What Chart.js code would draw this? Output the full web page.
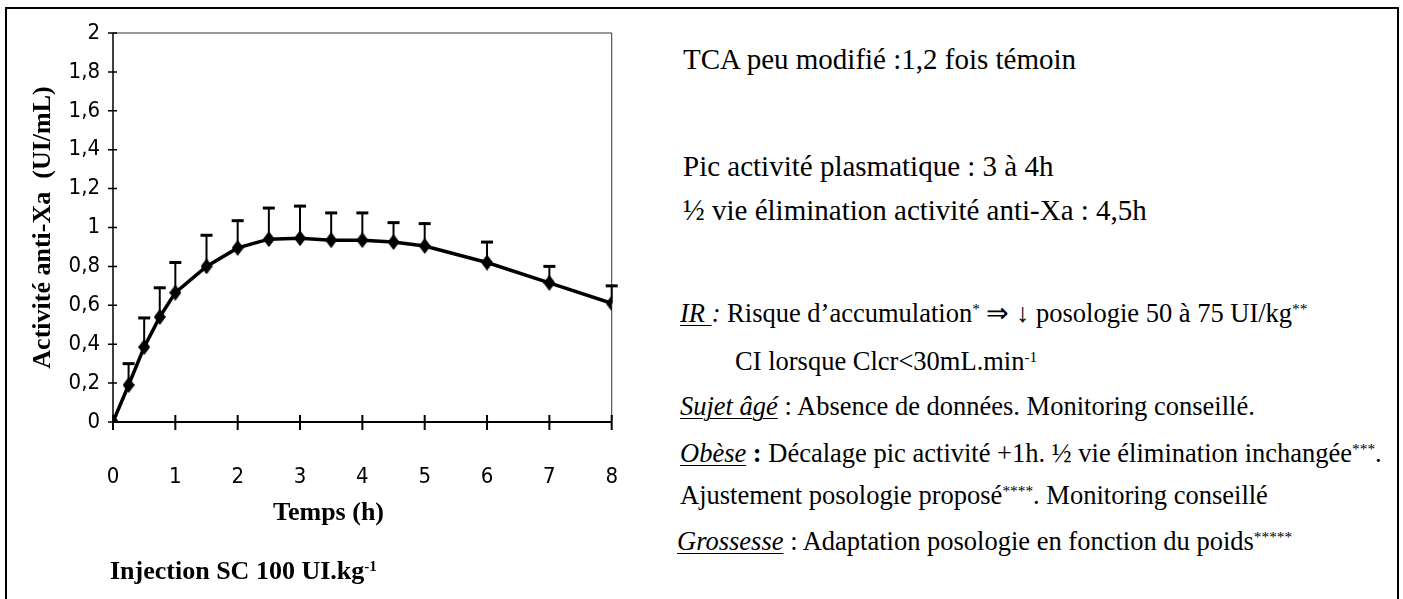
<!DOCTYPE html>
<html>
<head>
<meta charset="utf-8">
<script src="https://cdn.jsdelivr.net/npm/chart.js@4/dist/chart.umd.min.js"></script>
<style>
  body { margin: 0; background: #fff; }
  #page { position: relative; width: 1403px; height: 599px; overflow: hidden; background: #fff; }
  #frame { position: absolute; left: 5px; top: 7px; width: 1390px; height: 700px; border: 2px solid #000; }
  #chartBox { position: absolute; left: 0; top: 0; width: 660px; height: 599px; }
  .txt { position: absolute; left: 680px; font-family: 'Liberation Serif', 'Times New Roman', serif; font-size: 26.5px; line-height: 1; color: #000; white-space: nowrap; }
  .big { font-size: 29px; left: 683px; }
  .txt sup { font-size: 0.58em; vertical-align: 0.55em; line-height: 0; }
  .lbl { font-style: italic; text-decoration: underline; text-decoration-thickness: 1px; text-underline-offset: 3px; }
  .bold { position: absolute; font: bold 26px 'Liberation Serif', serif; line-height: 1; white-space: nowrap; }
  .bold sup { font-size: 0.58em; vertical-align: 0.55em; line-height: 0; }
</style>
</head>
<body>
<div id="page">
  <div id="frame"></div>
  <div id="chartBox"><canvas id="pkChart"></canvas></div>

  <div class="txt big" style="top:45px">TCA peu modifié :1,2 fois témoin</div>
  <div class="txt big" style="top:152px">Pic activité plasmatique : 3 à 4h</div>
  <div class="txt big" style="top:196px">½ vie élimination activité anti-Xa : 4,5h</div>
  <div class="txt" style="top:300px"><span class="lbl">IR </span><i>:</i> Risque d’accumulation<sup>*</sup> ⇒ ↓ posologie 50 à 75 UI/kg<sup>**</sup></div>
  <div class="txt" style="top:348px; left:735px">CI lorsque Clcr&lt;30mL.min<sup>-1</sup></div>
  <div class="txt" style="top:393px"><span class="lbl">Sujet âgé</span> : Absence de données. Monitoring conseillé.</div>
  <div class="txt" style="top:440px"><span class="lbl">Obèse</span> <b>:</b> Décalage pic activité +1h. ½ vie élimination inchangée<sup>***</sup>.</div>
  <div class="txt" style="top:482px">Ajustement posologie proposé<sup>****</sup>. Monitoring conseillé</div>
  <div class="txt" style="top:528px; left:677px"><span class="lbl">Grossesse</span> : Adaptation posologie en fonction du poids<sup>*****</sup></div>

  <div class="bold" style="left:273px; top:499px">Temps (h)</div>
  <div class="bold" style="left:110px; top:558px">Injection SC 100 UI.kg<sup>-1</sup></div>
</div>

<script>
// anti-Xa activity after SC injection, mean and SD (UI/mL)
const hours   = [0, 0.25, 0.5, 0.75, 1, 1.5, 2, 2.5, 3, 3.5, 4, 4.5, 5, 6, 7, 8];
const meanXa  = [0, 0.19, 0.385, 0.54, 0.665, 0.80, 0.895, 0.94, 0.945, 0.935, 0.935, 0.925, 0.905, 0.82, 0.715, 0.61];
const sdXa    = [0, 0.11, 0.15, 0.15, 0.155, 0.16, 0.14, 0.16, 0.165, 0.14, 0.14, 0.10, 0.115, 0.105, 0.085, 0.09];

const xTickLabels = ['0', '1', '2', '3', '4', '5', '6', '7', '8'];
const yTickLabels = ['0', '0,2', '0,4', '0,6', '0,8', '1', '1,2', '1,4', '1,6', '1,8', '2'];

const tickFont = { family: "'Liberation Sans Narrow', 'DejaVu Sans Condensed', sans-serif", size: 22 };
const titleFont = { family: "'Liberation Serif', serif", size: 26, weight: 'bold' };

// tall filled diamond used as marker
function diamond(w, h) {
  const c = document.createElement('canvas');
  c.width = w; c.height = h;
  const g = c.getContext('2d');
  g.fillStyle = '#000';
  g.beginPath();
  g.moveTo(w / 2, 0); g.lineTo(w, h / 2); g.lineTo(w / 2, h); g.lineTo(0, h / 2);
  g.closePath(); g.fill();
  return c;
}

// axes with crossing ticks, thin top/right frame, upward error bars
const axesAndErrors = {
  id: 'axesAndErrors',
  beforeDatasetsDraw(chart) {
    const { ctx, chartArea: a, scales: { x, y } } = chart;
    ctx.save();
    ctx.strokeStyle = '#333';
    ctx.lineWidth = 1;
    ctx.beginPath();
    ctx.moveTo(a.left, a.top); ctx.lineTo(a.right, a.top); ctx.lineTo(a.right, a.bottom);
    ctx.stroke();

    ctx.strokeStyle = '#000';
    ctx.lineWidth = 1.5;
    ctx.beginPath();
    ctx.moveTo(a.left, a.top); ctx.lineTo(a.left, a.bottom);
    y.ticks.forEach(t => {
      const py = y.getPixelForValue(t.value);
      ctx.moveTo(a.left - 5, py); ctx.lineTo(a.left + 4, py);
    });
    ctx.stroke();

    ctx.lineWidth = 2;
    ctx.beginPath();
    ctx.moveTo(a.left, a.bottom); ctx.lineTo(a.right, a.bottom);
    x.ticks.forEach(t => {
      const px = x.getPixelForValue(t.value);
      ctx.moveTo(px, a.bottom - 7); ctx.lineTo(px, a.bottom + 8);
    });
    ctx.stroke();

    hours.forEach((h, i) => {
      if (!sdXa[i]) return;
      const px = x.getPixelForValue(h);
      const y0 = y.getPixelForValue(meanXa[i]);
      const y1 = y.getPixelForValue(meanXa[i] + sdXa[i]);
      ctx.lineWidth = 2;
      ctx.beginPath();
      ctx.moveTo(px, y0); ctx.lineTo(px, y1);
      ctx.stroke();
      ctx.lineWidth = 3;
      ctx.beginPath();
      ctx.moveTo(px - 6, y1); ctx.lineTo(px + 6, y1);
      ctx.stroke();
    });
    ctx.restore();
  }
};

new Chart(document.getElementById('pkChart'), {
  type: 'scatter',
  data: {
    datasets: [{
      data: hours.map((h, i) => ({ x: h, y: meanXa[i] })),
      showLine: true,
      borderColor: '#000',
      borderWidth: 3.5,
      pointStyle: diamond(12, 16),
      pointRadius: 7,
      tension: 0
    }]
  },
  plugins: [axesAndErrors],
  options: {
    responsive: true,
    maintainAspectRatio: false,
    animation: false,
    layout: { padding: { left: 0, top: 33, right: 23, bottom: 77 } },
    plugins: { legend: { display: false }, tooltip: { enabled: false } },
    scales: {
      x: {
        type: 'linear', min: 0, max: 8,
        grid: { display: false, drawTicks: false },
        border: { display: false },
        ticks: { stepSize: 1, color: '#000', font: tickFont, padding: 42,
                 callback: (v, i) => xTickLabels[i] },
        afterFit: s => { s.height = 100; }
      },
      y: {
        min: 0, max: 2,
        grid: { display: false, drawTicks: false },
        border: { display: false },
        ticks: { stepSize: 0.2, color: '#000', font: tickFont, padding: 13,
                 callback: (v, i) => yTickLabels[i] },
        title: { display: true, text: 'Activité anti-Xa  (UI/mL)', color: '#000', font: titleFont,
                 padding: { top: 28, bottom: 0 } },
        afterFit: s => { s.width = 113; }
      }
    }
  }
});
</script>
</body>
</html>
